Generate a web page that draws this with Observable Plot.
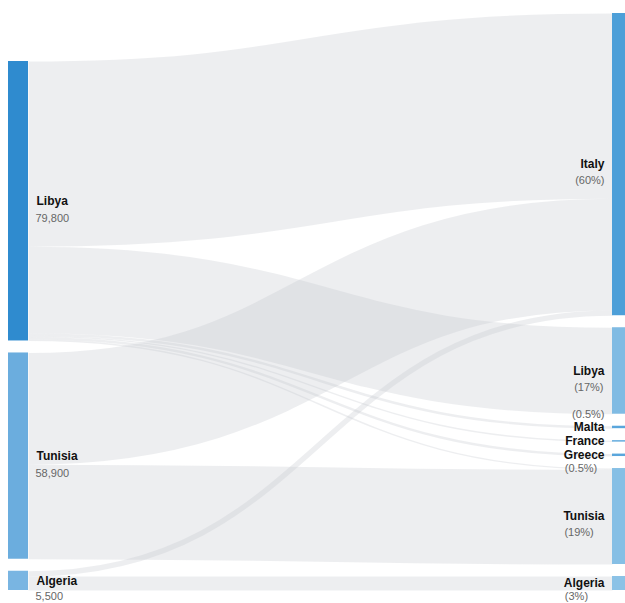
<!DOCTYPE html>
<html>
<head>
<meta charset="utf-8">
<script src="https://cdn.jsdelivr.net/npm/d3@7"></script>
<script src="https://cdn.jsdelivr.net/npm/@observablehq/plot@0.6"></script>
<style>
  html, body { margin: 0; padding: 0; background: #fff; }
  #chart { width: 625px; height: 603px; }
</style>
</head>
<body>
<div id="chart"></div>
<script>
// ---- Data ----
const sources = ["Libya", "Tunisia", "Algeria"];
const sourceTotals = [79800, 58900, 5500];
const sourceLabels = ["79,800", "58,900", "5,500"];

const destinations = ["Italy", "Libya", "Malta", "France", "Greece", "Tunisia", "Algeria"];
const destinationShares = ["(60%)", "(17%)", "(0.5%)", "", "(0.5%)", "(19%)", "(3%)"];

const flowFrom  = ["Libya", "Libya", "Libya", "Libya", "Libya", "Libya", "Tunisia", "Tunisia", "Algeria", "Algeria"];
const flowTo    = ["Italy", "Libya", "Malta", "France", "Greece", "Tunisia", "Italy", "Tunisia", "Italy", "Algeria"];
const flowValue = [52900, 24700, 700, 400, 700, 400, 31900, 27000, 1500, 4000];

// ---- Layout (sankey-style, computed) ----
const W = 625, H = 603;
const nodeWidth = 20, pad = 12;
const leftX = 8, rightX = 612, topY = 13, bottomY = 590;

const flows = flowValue.map((v, i) => ({from: flowFrom[i], to: flowTo[i], value: v}));
const leftVal = sources.map(s => d3.sum(flows.filter(f => f.from === s), f => f.value));
const rightVal = destinations.map(t => d3.sum(flows.filter(f => f.to === t), f => f.value));
const ky = (bottomY - topY - pad * (destinations.length - 1)) / d3.sum(rightVal);

function column(names, vals, x0, side) {
  const h = d3.sum(vals) * ky + pad * (names.length - 1);
  let y = bottomY - h;
  return names.map((n, i) => {
    const node = {name: n, side, index: i, value: vals[i], x0, x1: x0 + nodeWidth, y0: y, y1: y + vals[i] * ky};
    y = node.y1 + pad;
    return node;
  });
}
const leftNodes = column(sources, leftVal, leftX, "left");
const rightNodes = column(destinations, rightVal, rightX, "right");

const links = flows.map(f => ({...f, s: sources.indexOf(f.from), t: destinations.indexOf(f.to), w: f.value * ky}));
leftNodes.forEach(n => {
  let y = n.y0;
  links.filter(l => l.s === n.index).sort((a, b) => a.t - b.t).forEach(l => { l.ys = y + l.w / 2; y += l.w; });
});
rightNodes.forEach(n => {
  let y = n.y0;
  links.filter(l => l.t === n.index).sort((a, b) => a.s - b.s).forEach(l => { l.yt = y + l.w / 2; y += l.w; });
});
links.forEach(l => { l.xs = leftX + nodeWidth; l.xt = rightX; });

// ---- Colours ----
const leftColors = {Libya: "#2f8bcf", Tunisia: "#6badde", Algeria: "#79b5e2"};
const rightColors = {Italy: "#4d9fd8", Libya: "#80bbe3", Malta: "#5aa6dc", France: "#5aa6dc", Greece: "#5aa6dc", Tunisia: "#86bfe5", Algeria: "#8cc2e6"};
const allNodes = [
  ...leftNodes.map(n => ({...n, color: leftColors[n.name]})),
  ...rightNodes.map(n => ({...n, color: rightColors[n.name]}))
];

// ---- Labels ----
const nameFont = "bold 12px 'Liberation Sans'";
const valFont = "11px 'Liberation Sans'";
const ctx = document.createElement("canvas").getContext("2d");
const tw = (s, font) => { ctx.font = font; return ctx.measureText(s).width; };

const leftNames = leftNodes.map(n => ({x: n.x1 + 8, y: (n.y0 + n.y1) / 2, text: n.name}));
const leftValues = leftNodes.map((n, i) => ({x: n.x1 + 7, y: Math.min(H - 7, (n.y0 + n.y1) / 2 + 17), text: sourceLabels[i]}));
const labelRight = rightX - 8;
const rightNames = rightNodes.map(n => ({x: labelRight, y: (n.y0 + n.y1) / 2, text: n.name}));
const rightShares = rightNodes.map((n, i) => {
  const s = destinationShares[i];
  const nw = tw(n.name, nameFont), pw = tw(s, valFont);
  const cy = (n.y0 + n.y1) / 2;
  const dy = n.name === "Malta" ? -13 : (n.value * ky < 10 ? 13 : 16);
  return {x: Math.min(labelRight - nw + 1, labelRight - pw), y: Math.min(H - 7, cy + dy), text: s};
}).filter(d => d.text);

const chart = Plot.plot({
  width: W, height: H,
  margin: 0,
  x: {type: "identity", axis: null},
  y: {type: "identity", axis: null},
  marks: [
    Plot.link(links, {
      x1: "xs", y1: "ys", x2: "xt", y2: "yt",
      curve: "bump-x",
      stroke: "#c3c8cd", strokeOpacity: 0.3,
      strokeWidth: d => Math.max(1.2, d.w)
    }),
    Plot.rect(allNodes, {x1: "x0", x2: "x1", y1: "y0", y2: "y1", fill: "color"}),
    Plot.text(leftNames, {x: "x", y: "y", text: "text", textAnchor: "start", fontFamily: "Liberation Sans", fontWeight: "bold", fontSize: 12, fill: "#111"}),
    Plot.text(leftValues, {x: "x", y: "y", text: "text", textAnchor: "start", fontFamily: "Liberation Sans", fontSize: 11, fill: "#666"}),
    Plot.text(rightNames, {x: "x", y: "y", text: "text", textAnchor: "end", fontFamily: "Liberation Sans", fontWeight: "bold", fontSize: 12, fill: "#111"}),
    Plot.text(rightShares, {x: "x", y: "y", text: "text", textAnchor: "start", fontFamily: "Liberation Sans", fontSize: 11, fill: "#666"})
  ]
});
document.getElementById("chart").appendChild(chart);
</script>
</body>
</html>
